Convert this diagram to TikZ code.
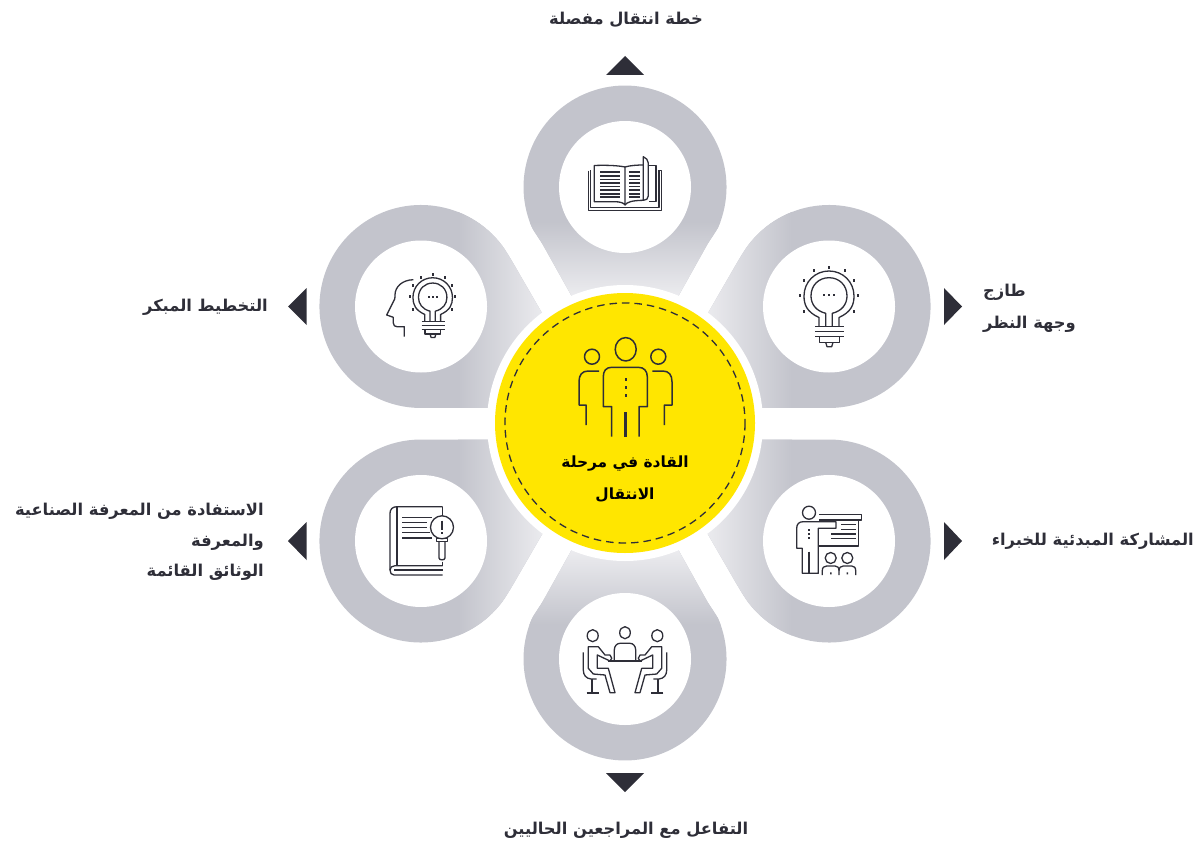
\documentclass[tikz,border=0pt]{standalone}
\usepackage{fontspec}
\newfontfamily\arabicfont[Script=Arabic]{DejaVu Sans}
\TeXXeTstate=1
\definecolor{ink}{HTML}{2E2E38}
\definecolor{teardark}{HTML}{C3C4CC}
\definecolor{tearlight}{HTML}{EEEEF1}
\definecolor{eyyellow}{HTML}{FFE600}
\tikzset{
  ic/.style={draw=ink,line width=1.3pt,line join=round,fill=none},
  icthick/.style={draw=ink,line width=2pt,fill=none},
  rt/.style={fill=ink,draw=none},
  lbl/.style={text=ink,inner sep=0pt,yshift=-1.5pt,font=\arabicfont\bfseries\fontsize{16.3}{18}\selectfont},
  centerlbl/.style={text=black,inner sep=0pt,yshift=-1.5pt,font=\arabicfont\bfseries\fontsize{15.4}{18}\selectfont},
  innerdisc/.style={fill=white,draw=none},
}
\newcommand{\tearV}[2]{\begin{scope}[#1]
  \clip (597.6,342.6) -- (571,295) -- (543,245) .. controls (540,239.8) and (533.2,230.4) .. (531.6,226.7)
    arc[start angle=157,end angle=383,radius=101.5]
    .. controls (716.8,230.4) and (710,239.8) .. (707,245) -- (679,295) -- (652.4,342.6) -- cycle;
  \fill[teardark] (500,70) rectangle (750,350);
  \shade[#2] (500,222) rectangle (750,300);
  \fill[tearlight] (500,300) rectangle (750,350);
\end{scope}}
\newcommand{\tearH}[2]{\begin{scope}[#1]
  \clip (688.5,347) -- (708,313) -- (729.6,275.6) .. controls (735,266.2) and (743.2,251.8) .. (748,245.4)
    arc[start angle=217,end angle=450,radius=101.5] -- (700,408) -- cycle;
  \fill[teardark] (680,190) rectangle (950,420);
  \shade[#2] (700,190) rectangle (792,420);
\end{scope}}
\newcommand{\bulbicon}[1]{%
  \draw[ic] (819,326) -- (819,317.5) .. controls (807,312) and (804,305) .. (804,296)
     .. controls (804,282) and (815,271) .. (829,271) .. controls (843,271) and (854,282) .. (854,296)
     .. controls (854,305) and (851,312) .. (839,317.5) -- (839,326);
  \draw[ic] (825.7,326) -- (825.7,313.3) .. controls (816,311) and (811,304) .. (811,296)
     .. controls (811,285) and (819,277.7) .. (829,277.7) .. controls (839,277.7) and (847,285) .. (847,296)
     .. controls (847,304) and (842,311) .. (832.3,313.3) -- (832.3,326);
  \draw[ic] (815,326.7) -- (844,326.7) (815,331.7) -- (844,331.7) (815,336.7) -- (844,336.7);
  \draw[ic] (819.3,336.7) -- (819.3,342.3) -- (839.3,342.3) -- (839.3,336.7);
  \draw[ic] (825.7,342.3) -- (827,346.7) -- (831.7,346.7) -- (833,342.3);
  \foreach \px/\py in {824/295,829/295,834/295}{\fill[rt] (\px-#1*.9,\py-#1*.9) rectangle (\px+#1*.9,\py+#1*.9);}
  \foreach \px/\py in {829/267.3,814/270.7,845/270.7,804/280.7,854/280.7,800/295.3,857.7/295.3,804/311.3,854/311.3}
    {\fill[rt] (\px-#1*1,\py-#1*1.5) rectangle (\px+#1*1,\py+#1*1.5);}
}
\newcommand{\meetingside}{%
  \draw[ic] (592.7,635.7) ellipse[x radius=5.5,y radius=6];
  \draw[ic] (583.3,652.3) -- (583.3,670) .. controls (583.3,675) and (586,678.5) .. (591,679) -- (596.7,679);
  \draw[icthick] (592.3,679) -- (592.3,692.7) (586.7,692.7) -- (599,692.7);
  \draw[ic] (597.3,655) -- (610,661) -- (611.7,658.3) -- (610,655) -- (605,655) -- (598.3,646.7) -- (588.3,646.7)
     -- (588.3,668.3) -- (593.3,674) -- (605,675) -- (610,692.7) -- (615,692.7) -- (608.3,668.3) -- (597.3,668.3) -- cycle;
}
\begin{document}
\begin{tikzpicture}[x=1pt,y=-1pt]
\useasboundingbox (0,0) rectangle (1199,848);
% petals
\tearV{}{top color=teardark,bottom color=tearlight}
\tearV{shift={(0,846)},yscale=-1}{top color=tearlight,bottom color=teardark}
\tearH{}{left color=tearlight,right color=teardark}
\tearH{shift={(1250,0)},xscale=-1}{left color=teardark,right color=tearlight}
\tearH{shift={(0,847.5)},yscale=-1}{left color=tearlight,right color=teardark}
\tearH{shift={(1250,847.5)},xscale=-1,yscale=-1}{left color=teardark,right color=tearlight}
% inner discs
\foreach \cx/\cy in {625/187,625/659,829/306.5,829/541,421/306.5,421/541}
  {\fill[innerdisc] (\cx,\cy) circle (66);}
% centre
\fill[white] (625,423) circle (138);
\fill[eyyellow] (625,423) circle (130);
\draw[ink,line width=1.3pt,dash pattern=on 7.5pt off 5pt] (625,423) circle (120);
% triangles
\fill[ink] (606,75) -- (644,75) -- (625,56) -- cycle;
\fill[ink] (606,773) -- (644,773) -- (625,792) -- cycle;
\fill[ink] (944,288) -- (944,325) -- (962,306.5) -- cycle;
\fill[ink] (944,522) -- (944,560) -- (962,541) -- cycle;
\fill[ink] (306.5,288) -- (306.5,325) -- (288,306.5) -- cycle;
\fill[ink] (306.5,522) -- (306.5,560) -- (288,541) -- cycle;
% people icon
\draw[ic,line width=1.5pt] (625.7,349.3) ellipse[x radius=10.5,y radius=11.7];
\draw[ic,line width=1.5pt] (611.7,436.7) -- (611.7,406.7) -- (603.3,406.7) -- (603.3,376.7) .. controls (603.3,371) and (606,367.3) .. (611.7,367.3)
   -- (638.3,367.3) .. controls (644,367.3) and (647.3,371) .. (647.3,376.7) -- (647.3,406.7) -- (639,406.7) -- (639,436.7);
\draw[line width=2.6pt,ink] (625.7,412.3) -- (625.7,436.7);
\foreach \py in {379.3,387.3,395.3}{\fill[rt] (624.5,\py-1.2) rectangle (626.9,\py+1.2);}
\draw[ic,line width=1.5pt] (592,356.7) circle (7.5) (658.3,356.7) circle (7.5);
\draw[ic,line width=1.5pt] (586,425) -- (586,405) -- (579,405) -- (579,381.7) .. controls (579,375) and (582,371) .. (588.3,371) -- (599,371);
\draw[ic,line width=1.5pt] (664.3,425) -- (664.3,405) -- (672,405) -- (672,381.7) .. controls (672,375) and (669,371) .. (662.7,371) -- (652.3,371);
% open book icon
\draw[ic] (588.3,170.7) -- (588.3,210.7) -- (661.3,210.7) -- (661.3,170.7) -- (659,170.7);
\draw[ic] (590.7,170) -- (590.7,207.3) -- (659,207.3) -- (659,170);
\draw[ic] (625,167) .. controls (618,165.5) and (606,165) .. (594.3,165.5) -- (594.3,201.7) -- (615,201.7) .. controls (620,201.7) and (624,203) .. (625,205) -- (625,167);
\draw[ic] (625,167) .. controls (630,165.5) and (637,165) .. (643.3,165);
\draw[ic] (648.3,165.5) -- (656,165.5) -- (656,201.7) -- (649,201.7);
\draw[ic] (625,205) .. controls (627,202) and (632,200.5) .. (643.3,200.3) -- (643.3,156.7) .. controls (646,158) and (648.3,160) .. (648.3,163) -- (648.3,196) .. controls (648.3,199) and (646,200.3) .. (643.3,200.3);
\foreach \py in {172.3,175.9,179.4,183,186.6,190.1,193.7,197.3}
  {\draw[ink,line width=1.7pt] (600,\py) -- (620,\py) (629,\py) -- (640,\py);}
% bulb icons
\bulbicon{1}
\begin{scope}[shift={(432.7,297.5)},scale=.79,shift={(-829,-296)}]
  \bulbicon{1.25}
\end{scope}
% head
\draw[ic] (413.3,279.7) .. controls (402,280) and (395,287) .. (395,295) .. controls (395,299) and (394.5,300) .. (393.3,301.7)
  -- (386.7,315) -- (393.3,317.3) -- (393.3,323) .. controls (393.3,325.5) and (395,326.7) .. (397,326.7) -- (404.3,326.7) -- (404.3,336.7);
% presentation icon
\draw[ic] (809,512.7) circle (6.5);
\draw[ic] (819,514.3) -- (861.7,514.3) -- (861.7,520) -- (819,520);
\draw[ic] (858.3,520) -- (858.3,546) -- (818.3,546);
\draw[ic] (841,524.3) -- (855.7,524.3) (841,529.3) -- (855.7,529.3) (831,534) -- (855.7,534) (831,538.7) -- (855.7,538.7);
\draw[ic] (836,521.7) -- (803.3,521.7) .. controls (799,521.7) and (796.7,524) .. (796.7,528.3) -- (796.7,548.3) -- (802.3,548.3)
  -- (802.3,573.3) -- (818.3,573.3) -- (818.3,528.3) -- (836,528.3) -- cycle;
\draw[line width=2pt,ink] (809.3,551.7) -- (809.3,573.3);
\foreach \py in {530,534,538.3}{\fill[rt] (808,\py-1) rectangle (810,\py+1);}
\draw[ic] (830.7,558) circle (5.5) (847.3,558) circle (5.5);
\draw[ic] (822.3,575) -- (822.3,570.7) .. controls (822.3,567.5) and (824,566) .. (826.7,566) -- (835,566) .. controls (837.5,566) and (839,567.5) .. (839,570.7) -- (839,575);
\draw[ic] (839,570.7) .. controls (839,567.5) and (841,566) .. (843.3,566) -- (851.7,566) .. controls (854,566) and (855.7,567.5) .. (855.7,570.7) -- (855.7,575);
\fill[rt] (830,572.3) rectangle (831.6,574.3) (846.5,572.3) rectangle (848.1,574.3);
% meeting icon
\draw[ic] (625,632.7) ellipse[x radius=5.3,y radius=6];
\draw[ic] (614.3,660) -- (614.3,650) .. controls (614.3,646) and (617,643.3) .. (620,643.3) -- (630,643.3) .. controls (633,643.3) and (635.7,646) .. (635.7,650) -- (635.7,660);
\draw[icthick] (608.3,661) -- (641.7,661);
\meetingside
\begin{scope}[shift={(1250,0)},xscale=-1]
  \meetingside
\end{scope}
% manual with magnifier icon
\draw[ic] (442.7,506.7) -- (396.7,506.7) .. controls (392.5,506.7) and (390,509.5) .. (390,513.3) -- (390,570) .. controls (390,573) and (391.5,575) .. (394,575) -- (442.7,575);
\draw[icthick] (396.7,506.7) -- (396.7,565);
\draw[ic] (442.7,565.7) -- (395,565.7) .. controls (392,565.7) and (390,567.5) .. (390,570);
\draw[icthick] (394,570) -- (442.7,570);
\draw[ic] (442.3,506.7) -- (442.3,516) (442.3,561.7) -- (442.3,565.7);
\draw[ink,line width=1.6pt] (402.3,517.3) -- (431.7,517.3) (402.3,522.3) -- (426.7,522.3) (402.3,527.3) -- (426.7,527.3) (402.3,532.3) -- (430,532.3) (402.3,537.7) -- (431.7,537.7);
\draw[ic] (442,527.3) circle (11.5);
\draw[line width=1.8pt,ink] (442,520.7) -- (442,530);
\fill[rt] (441,531.5) rectangle (443,533.5);
\draw[ic] (436.7,538.8) -- (447.3,538.8) -- (447.3,541.7) -- (436.7,541.7) -- cycle;
\draw[ic] (439,541.7) -- (439,558) .. controls (439,560.5) and (445,560.5) .. (445,558) -- (445,541.7);
% labels
\node[lbl] (ltop) at (626,18) {\beginR خطة انتقال مفصلة\endR};
\node[lbl,anchor=west] (lur1) at (983,291) {\beginR طازج\endR};
\node[lbl,anchor=west] (lur2) at (983,323) {\beginR وجهة النظر\endR};
\node[lbl,anchor=east] (llr) at (1194,540) {\beginR المشاركة المبدئية للخبراء\endR};
\node[lbl] (lbot) at (626,829) {\beginR التفاعل مع المراجعين الحاليين\endR};
\node[lbl,anchor=east] (lul) at (268,306) {\beginR التخطيط المبكر\endR};
\node[lbl,anchor=east] (lll1) at (264,510) {\beginR الاستفادة من المعرفة الصناعية\endR};
\node[lbl,anchor=east] (lll2) at (264,541) {\beginR والمعرفة\endR};
\node[lbl,anchor=east] (lll3) at (264,571) {\beginR الوثائق القائمة\endR};
\node[centerlbl] (c1) at (625,462) {\beginR القادة في مرحلة\endR};
\node[centerlbl] (c2) at (625,494) {\beginR الانتقال\endR};
\end{tikzpicture}
\end{document}
